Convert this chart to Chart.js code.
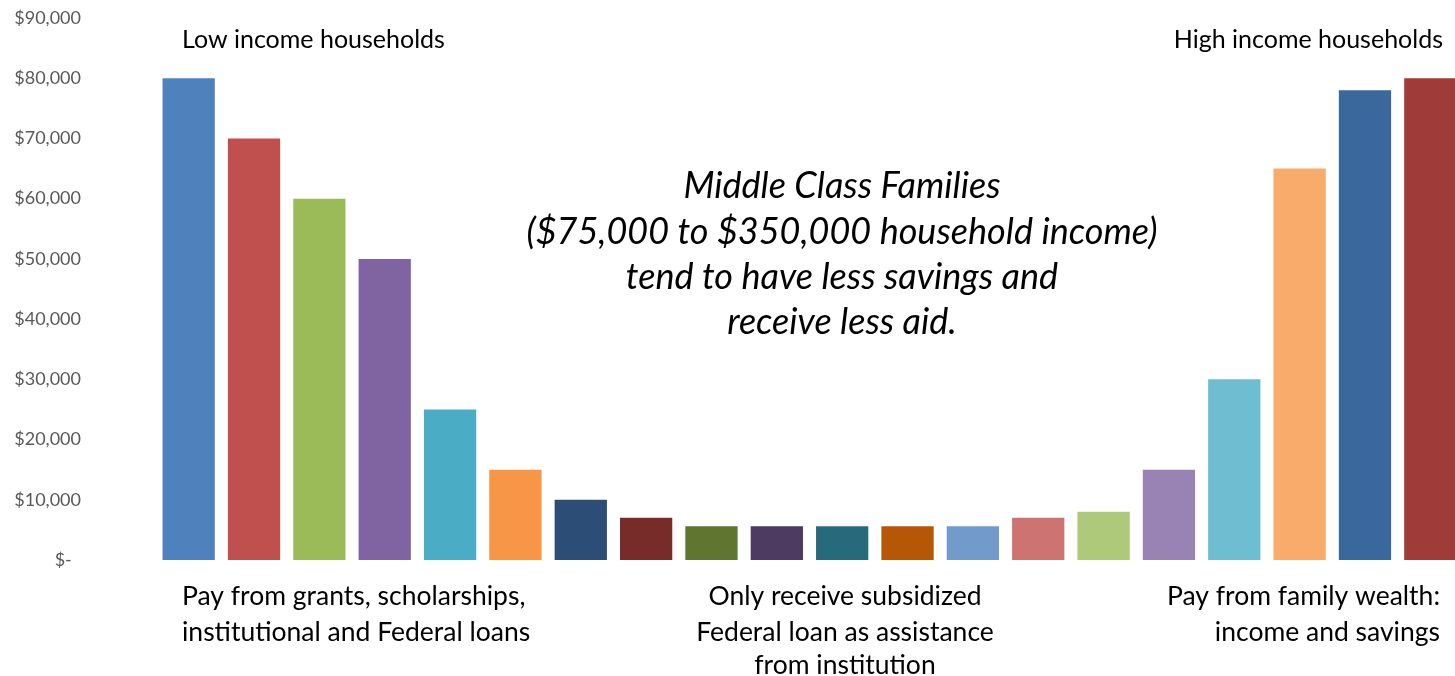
<!DOCTYPE html>
<html>
<head>
<meta charset="utf-8">
<script src="https://cdn.jsdelivr.net/npm/chart.js@4.4.1/dist/chart.umd.min.js"></script>
<style>
  html, body { margin: 0; padding: 0; background: #fff; overflow: hidden; }
  #wrap { width: 1463px; height: 676px; }
</style>
</head>
<body>
<div id="wrap"><canvas id="chart1"></canvas></div>
<script>
// bars, left (low income) to right (high income)
const categories = ['1', '2', '3', '4', '5', '6', '7', '8', '9', '10',
    '11', '12', '13', '14', '15', '16', '17', '18', '19', '20']
const amounts = [80000, 70000, 60000, 50000, 25000, 15000, 10000, 7000, 5600, 5600,
    5600, 5600, 5600, 7000, 8000, 15000, 30000, 65000, 78000, 80000]
const barColors = ['#4F81BD', '#C0504D', '#9BBB59', '#8064A2', '#4BACC6', '#F79646',
    '#2C4D75', '#772C2A', '#5F7530', '#4D3B62', '#276A7C', '#B65708', '#729ACA',
    '#CD7371', '#AFC97A', '#9983B5', '#6FBDD1', '#F9AB6B', '#3A679C', '#9F3B38']
const yTicks = [0, 10000, 20000, 30000, 40000, 50000, 60000, 70000, 80000, 90000]

const topLeftNote = 'Low income households'
const topRightNote = 'High income households'
const middleNote = ['Middle Class Families', '($75,000 to $350,000 household income)',
    'tend to have less savings and', 'receive less aid.']
const bottomLeftNote = ['Pay from grants, scholarships,', 'institutional and Federal loans']
const bottomMidNote = ['Only receive subsidized', 'Federal loan as assistance', 'from institution']
const bottomRightNote = ['Pay from family wealth:', 'income and savings']

const ctx1 = document.getElementById('chart1')

const notes = {
    id: 'notes',
    afterDraw: (chart) => {
        const c = chart.ctx
        c.save()
        c.fillStyle = '#000'
        c.textBaseline = 'middle'

        c.font = '25px Lato'
        c.textAlign = 'left'
        c.fillText(topLeftNote, 182, 40)
        c.textAlign = 'right'
        c.fillText(topRightNote, 1443, 40)

        c.font = 'italic 36px Lato'
        c.textAlign = 'center'
        const midY = [186, 232, 277, 322]
        middleNote.forEach((t, i) => c.fillText(t, 842, midY[i]))

        c.font = '26.5px Lato'
        const botY = [596, 632, 665]
        c.textAlign = 'left'
        bottomLeftNote.forEach((t, i) => c.fillText(t, 182, botY[i]))
        c.textAlign = 'center'
        bottomMidNote.forEach((t, i) => c.fillText(t, 845, botY[i]))
        c.textAlign = 'right'
        bottomRightNote.forEach((t, i) => c.fillText(t, 1440, botY[i]))
        c.restore()
    },
}

const chart1 = new Chart(ctx1, {
    type: 'bar',
    data: {
        labels: categories,
        datasets: [
            {
                data: amounts,
                backgroundColor: barColors,
                borderWidth: 0,
                barPercentage: 0.8,
                categoryPercentage: 1,
            },
        ],
    },
    options: {
        responsive: true,
        maintainAspectRatio: false,
        animation: false,
        layout: {
            padding: { top: 18, bottom: 116, left: 0, right: 0 },
        },
        plugins: {
            legend: { display: false },
            tooltip: { enabled: false },
        },
        scales: {
            x: { display: false },
            y: {
                min: 0,
                max: 90000,
                afterBuildTicks: (scale) => {
                    scale.ticks = yTicks.map((v) => ({ value: v }))
                },
                afterFit: (scale) => {
                    scale.width = 156
                    // big tick padding would otherwise push the plot down
                    scale.paddingTop = 0
                    scale.paddingBottom = 0
                },
                grid: { display: false, drawTicks: false },
                border: { display: false },
                ticks: {
                    padding: 75,
                    color: '#595959',
                    font: { family: 'Lato', size: 18 },
                    callback: (v) => v === 0 ? '$-  ' : '$' + v.toLocaleString('en-US'),
                },
            },
        },
    },
    plugins: [notes],
})
</script>
</body>
</html>
